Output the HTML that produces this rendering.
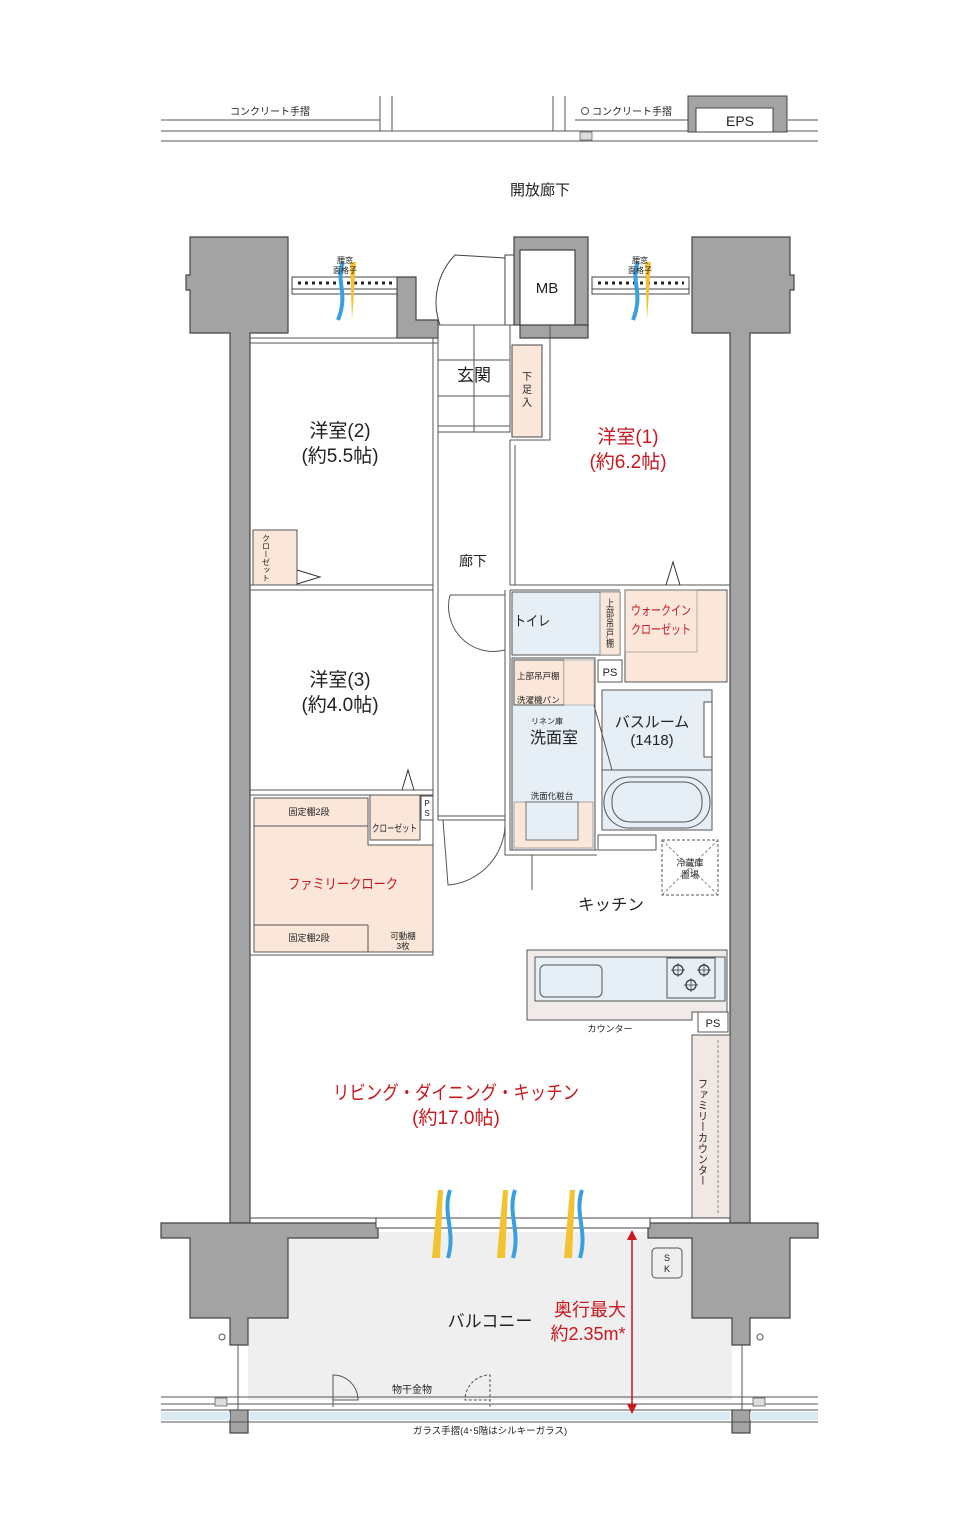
<!DOCTYPE html>
<html><head><meta charset="utf-8"><style>
html,body{margin:0;padding:0;background:#fff}
svg{display:block}
text{font-family:"Liberation Sans","Noto Sans CJK JP",sans-serif;fill:#222}
.r{fill:#c8171e}
</style></head><body>
<svg width="980" height="1530" viewBox="0 0 980 1530" xmlns="http://www.w3.org/2000/svg">
<g stroke="#555" stroke-width="1" fill="none">
<line x1="161" y1="120" x2="380" y2="120"/><line x1="161" y1="131" x2="818" y2="131"/><line x1="161" y1="141" x2="818" y2="141"/>
<line x1="380" y1="96" x2="380" y2="131"/><line x1="392" y1="96" x2="392" y2="131"/>
<line x1="553" y1="96" x2="553" y2="131"/><line x1="565" y1="96" x2="565" y2="131"/>
<line x1="575" y1="120" x2="688" y2="120"/>
<line x1="788" y1="120" x2="818" y2="120"/>
<circle cx="585" cy="111" r="3.5"/>
</g>
<rect x="688" y="96" width="99" height="36" fill="#a3a3a3" stroke="#444"/>
<rect x="696" y="108" width="77" height="24" fill="#fff" stroke="#444"/>
<rect x="580" y="132" width="12" height="8" fill="#ddd" stroke="#555" stroke-width=".7"/>
<text x="270" y="115" font-size="10" text-anchor="middle">コンクリート手摺</text>
<text x="632" y="115" font-size="10" text-anchor="middle">コンクリート手摺</text>
<text x="740" y="126" font-size="14" text-anchor="middle">EPS</text>
<text x="540" y="195" font-size="15" text-anchor="middle">開放廊下</text>

<rect x="248" y="1232" width="484" height="168" fill="#efefef"/>
<g fill="#a3a3a3" stroke="#444" stroke-width="1.2">
<path d="M190 237H288V333H250V1223H230V333H190V290H186V275H190Z"/>
<path d="M692 237H790V275H794V290H790V333H750V1223H730V333H692Z"/>
<path d="M397 277H416V320H438V338H397Z"/>
<path d="M514 237H588V325H575V250H520V325H514Z"/>
<path d="M575 325H588V338H520V325Z"/>
<path d="M161 1223H378V1238H288V1318H248V1345H230V1318H190V1238H161Z"/>
<path d="M648 1223H818V1238H790V1318H750V1345H732V1318H692V1238H648Z"/>
<rect x="230" y="1410" width="18" height="23"/><rect x="732" y="1410" width="18" height="23"/>
</g>
<rect x="292" y="277" width="105" height="12" fill="#fff" stroke="#444"/>
<line x1="298" y1="283" x2="392" y2="283" stroke="#222" stroke-width="3" stroke-dasharray="3,4"/>
<rect x="292" y="289" width="105" height="5" fill="#fff" stroke="#444"/>
<rect x="592" y="277" width="97" height="12" fill="#fff" stroke="#444"/>
<line x1="598" y1="283" x2="684" y2="283" stroke="#222" stroke-width="3" stroke-dasharray="3,4"/>
<rect x="592" y="289" width="97" height="5" fill="#fff" stroke="#444"/>
<path d="M350 262l6 0-4 58z" fill="#f2c230"/><path d="M343 262c-8 20 6 30-5 58" stroke="#39a0e0" stroke-width="4" fill="none"/>
<path d="M645 262l6 0-4 58z" fill="#f2c230"/><path d="M638 262c-8 20 6 30-5 58" stroke="#39a0e0" stroke-width="4" fill="none"/>
<text x="345" y="263" font-size="8" text-anchor="middle">腰窓</text><text x="345" y="273" font-size="8" text-anchor="middle">面格子</text>
<text x="640" y="263" font-size="8" text-anchor="middle">腰窓</text><text x="640" y="273" font-size="8" text-anchor="middle">面格子</text>
<g stroke="#444" fill="none" stroke-width="1">
<path d="M440 325A68 68 0 0 1 455 255L505 258V320"/>
<line x1="438" y1="325" x2="514" y2="325"/>
<rect x="505" y="255" width="9" height="70"/>
</g>
<g fill="none" stroke="#555" stroke-width="1">
<path d="M250 338H433V432"/><path d="M250 343H438"/>
<rect x="438" y="325" width="72" height="107"/>
<line x1="474" y1="325" x2="474" y2="432"/><line x1="438" y1="360" x2="510" y2="360"/><line x1="438" y1="396" x2="510" y2="396"/>
<rect x="438" y="426" width="72" height="6"/>
<path d="M433 432V955H250"/><path d="M438 432V820"/>
<path d="M510 440V585"/><path d="M515 445V585"/><path d="M510 440H550V325"/>
<path d="M250 585H433M250 590H433"/>
<path d="M510 585H730M510 590H620"/>
<path d="M250 790H433M250 795H433"/>
<path d="M510 590V850H597"/><path d="M505 590V855H597"/>
<path d="M438 820H505M438 816H505"/>
<path d="M450 595A45 45 0 0 0 505 650"/><path d="M450 595H505"/>
<path d="M443 820L448 885A62 62 0 0 0 505 820"/>
<path d="M532 855V890"/>
</g>
<rect x="512" y="345" width="30" height="92" fill="#fbe7da" stroke="#444"/>
<rect x="253" y="530" width="44" height="55" fill="#fbe7da" stroke="#555"/>
<path d="M297 570L320 577L297 584" fill="none" stroke="#333"/>
<rect x="512" y="592" width="108" height="63" fill="#e7eff6" stroke="#555"/>
<rect x="600" y="592" width="20" height="63" fill="#fbe7da" stroke="#666" stroke-width=".6"/>
<rect x="625" y="590" width="102" height="92" fill="#fbe7da" stroke="#555"/>
<rect x="625" y="590" width="72" height="62" fill="none" stroke="#888" stroke-width=".6"/>
<path d="M666 585L673 562L680 585" fill="none" stroke="#333"/>
<rect x="512" y="658" width="83" height="192" fill="#e7eff6" stroke="#555"/>
<rect x="514" y="660" width="50" height="45" fill="#fbe7da" stroke="#555"/>
<rect x="564" y="660" width="30" height="45" fill="#fbe7da" stroke="#999" stroke-width=".6"/>
<rect x="514" y="802" width="79" height="46" fill="#fbe7da" stroke="#777" stroke-width=".6"/>
<rect x="526" y="802" width="52" height="38" fill="#e7eff6" stroke="#555" stroke-width=".8"/>
<rect x="598" y="660" width="24" height="22" fill="#fff" stroke="#555"/>
<rect x="602" y="690" width="110" height="140" fill="#e7eff6" stroke="#555"/>
<line x1="602" y1="770" x2="712" y2="770" stroke="#555"/>
<rect x="704" y="702" width="8" height="55" fill="#fff" stroke="#555"/>
<rect x="604" y="777" width="106" height="51" rx="25" fill="none" stroke="#555"/>
<rect x="612" y="782" width="90" height="40" rx="18" fill="none" stroke="#555"/>
<path d="M594 705L612 770" stroke="#555"/>
<rect x="598" y="835" width="58" height="15" fill="#fff" stroke="#555"/>
<path d="M254 798H368V845H433V952H254Z" fill="#fbe7da" stroke="#555"/>
<line x1="254" y1="826" x2="368" y2="826" stroke="#555"/>
<line x1="254" y1="925" x2="368" y2="925" stroke="#555"/>
<line x1="368" y1="925" x2="368" y2="952" stroke="#555"/>
<rect x="370" y="795" width="50" height="45" fill="#fbe7da" stroke="#555"/>
<path d="M402 790L408 770L414 790" fill="none" stroke="#333"/>
<rect x="421" y="796" width="12" height="24" fill="#fff" stroke="#555"/>
<rect x="662" y="840" width="56" height="55" fill="#fff" stroke="#555" stroke-dasharray="3,2"/>
<path d="M662 840L718 895M718 840L662 895" stroke="#888" stroke-dasharray="3,2"/>
<path d="M527 950H727V1012H692V1020H527Z" fill="#f0ebe8" stroke="#555"/>
<rect x="535" y="957" width="190" height="44" fill="#e7eff6" stroke="#555"/>
<rect x="540" y="965" width="62" height="32" rx="5" fill="#e7eff6" stroke="#555"/>
<rect x="667" y="958" width="48" height="40" fill="#e7eff6" stroke="#555"/>
<g fill="none" stroke="#333" stroke-width="1.2">
<circle cx="678" cy="970" r="5"/><circle cx="704" cy="970" r="5"/><circle cx="691" cy="985" r="5"/>
<path d="M671 970h14M678 963v14M697 970h14M704 963v14M684 985h14M691 978v14" stroke-width=".7"/>
</g>
<rect x="698" y="1012" width="30" height="20" fill="#fff" stroke="#555"/>
<rect x="692" y="1035" width="38" height="183" fill="#f2e8e3" stroke="#555"/>
<line x1="718" y1="1040" x2="718" y2="1215" stroke="#888" stroke-dasharray="3,2"/>
<rect x="376" y="1218" width="274" height="10" fill="#fff" stroke="#444"/>
<line x1="250" y1="1218" x2="730" y2="1218" stroke="#444"/>
<g>
<path d="M438 1190l5 0-3 68h-8z" fill="#f2c230"/><path d="M450 1190c-8 25 6 40-2 68" stroke="#39a0e0" stroke-width="4" fill="none"/>
<path d="M503 1190l5 0-3 68h-8z" fill="#f2c230"/><path d="M515 1190c-8 25 6 40-2 68" stroke="#39a0e0" stroke-width="4" fill="none"/>
<path d="M570 1190l5 0-3 68h-8z" fill="#f2c230"/><path d="M582 1190c-8 25 6 40-2 68" stroke="#39a0e0" stroke-width="4" fill="none"/>
</g>
<g stroke="#555" fill="none">
<line x1="161" y1="1397" x2="818" y2="1397"/><line x1="161" y1="1404" x2="818" y2="1404"/>
<line x1="161" y1="1410" x2="818" y2="1410"/><line x1="161" y1="1422" x2="818" y2="1422"/>
<line x1="238" y1="1345" x2="238" y2="1410"/><line x1="742" y1="1345" x2="742" y2="1410"/>
<circle cx="222" cy="1337" r="3"/><circle cx="760" cy="1337" r="3"/>
<path d="M333 1407V1375A25 25 0 0 1 358 1400H333"/><path d="M490 1407V1375A25 25 0 0 0 465 1400H490" stroke-dasharray="3,2"/>
</g>
<rect x="250" y="1412" width="480" height="8" fill="#d8ebf3"/>
<rect x="161" y="1412" width="69" height="8" fill="#d8ebf3"/><rect x="750" y="1412" width="68" height="8" fill="#d8ebf3"/>
<rect x="215" y="1398" width="12" height="8" fill="#ddd" stroke="#555" stroke-width=".7"/>
<rect x="753" y="1398" width="12" height="8" fill="#ddd" stroke="#555" stroke-width=".7"/>
<rect x="652" y="1248" width="30" height="30" rx="4" fill="#eee" stroke="#555"/>
<line x1="632" y1="1236" x2="632" y2="1408" stroke="#c8171e" stroke-width="1.5"/>
<path d="M627 1240L632 1230L637 1240Z M627 1404L632 1414L637 1404Z" fill="#c8171e"/>
<text x="547" y="293" font-size="15" text-anchor="middle">MB</text>
<text x="474" y="381" font-size="17" text-anchor="middle">玄関</text>
<text x="527" y="380" font-size="10" text-anchor="middle">下</text><text x="527" y="393" font-size="10" text-anchor="middle">足</text><text x="527" y="406" font-size="10" text-anchor="middle">入</text>
<text x="340" y="437" font-size="19" text-anchor="middle">洋室(2)</text>
<text x="340" y="462" font-size="19" text-anchor="middle">(約5.5帖)</text>
<text class="r" x="628" y="443" font-size="19" text-anchor="middle">洋室(1)</text>
<text class="r" x="628" y="468" font-size="19" text-anchor="middle">(約6.2帖)</text>
<text x="473" y="566" font-size="14" text-anchor="middle">廊下</text>
<text x="266" y="534" font-size="8" writing-mode="tb" textLength="48" lengthAdjust="spacingAndGlyphs">クローゼット</text>
<text x="340" y="686" font-size="19" text-anchor="middle">洋室(3)</text>
<text x="340" y="711" font-size="19" text-anchor="middle">(約4.0帖)</text>
<text x="514" y="626" font-size="14" textLength="36" lengthAdjust="spacingAndGlyphs">トイレ</text>
<text x="610" y="598" font-size="8" writing-mode="tb" textLength="50" lengthAdjust="spacingAndGlyphs">上部吊戸棚</text>
<text class="r" x="631" y="615" font-size="13" textLength="60" lengthAdjust="spacingAndGlyphs">ウォークイン</text>
<text class="r" x="631" y="634" font-size="13" textLength="60" lengthAdjust="spacingAndGlyphs">クローゼット</text>
<text x="610" y="676" font-size="11" text-anchor="middle">PS</text>
<text x="517" y="679" font-size="8.5">上部吊戸棚</text>
<text x="517" y="703" font-size="8.5">洗濯機パン</text>
<text x="531" y="724" font-size="8">リネン庫</text>
<text x="554" y="743" font-size="16" text-anchor="middle">洗面室</text>
<text x="652" y="727" font-size="15" text-anchor="middle">バスルーム</text>
<text x="652" y="745" font-size="15" text-anchor="middle">(1418)</text>
<text x="552" y="799" font-size="8.5" text-anchor="middle">洗面化粧台</text>
<text x="309" y="815" font-size="9" text-anchor="middle">固定棚2段</text>
<text x="372" y="832" font-size="10" textLength="45" lengthAdjust="spacingAndGlyphs">クローゼット</text>
<text x="427" y="806" font-size="8" text-anchor="middle">P</text><text x="427" y="816" font-size="8" text-anchor="middle">S</text>
<text class="r" x="288" y="889" font-size="14" textLength="110" lengthAdjust="spacingAndGlyphs">ファミリークローク</text>
<text x="309" y="941" font-size="9" text-anchor="middle">固定棚2段</text>
<text x="403" y="939" font-size="8.5" text-anchor="middle">可動棚</text><text x="403" y="949" font-size="8.5" text-anchor="middle">3枚</text>
<text x="690" y="866" font-size="9" text-anchor="middle">冷蔵庫</text><text x="690" y="878" font-size="9" text-anchor="middle">置場</text>
<text x="578" y="910" font-size="16" textLength="66" lengthAdjust="spacingAndGlyphs">キッチン</text>
<text x="610" y="1032" font-size="9" text-anchor="middle">カウンター</text>
<text x="713" y="1027" font-size="11" text-anchor="middle">PS</text>
<text x="701" y="1078" font-size="10" writing-mode="tb" textLength="108" lengthAdjust="spacingAndGlyphs">ファミリーカウンター</text>
<text class="r" x="333" y="1099" font-size="19" textLength="246" lengthAdjust="spacingAndGlyphs">リビング・ダイニング・キッチン</text>
<text class="r" x="456" y="1124" font-size="19" text-anchor="middle">(約17.0帖)</text>
<text x="667" y="1261" font-size="9" text-anchor="middle">S</text><text x="667" y="1272" font-size="9" text-anchor="middle">K</text>
<text x="490" y="1327" font-size="17" text-anchor="middle">バルコニー</text>
<text class="r" x="590" y="1316" font-size="18" text-anchor="middle">奥行最大</text>
<text class="r" x="588" y="1340" font-size="18" text-anchor="middle">約2.35m*</text>
<text x="412" y="1393" font-size="10" text-anchor="middle">物干金物</text>
<text x="490" y="1434" font-size="9.5" text-anchor="middle">ガラス手摺(4･5階はシルキーガラス)</text>
</svg>
</body></html>
